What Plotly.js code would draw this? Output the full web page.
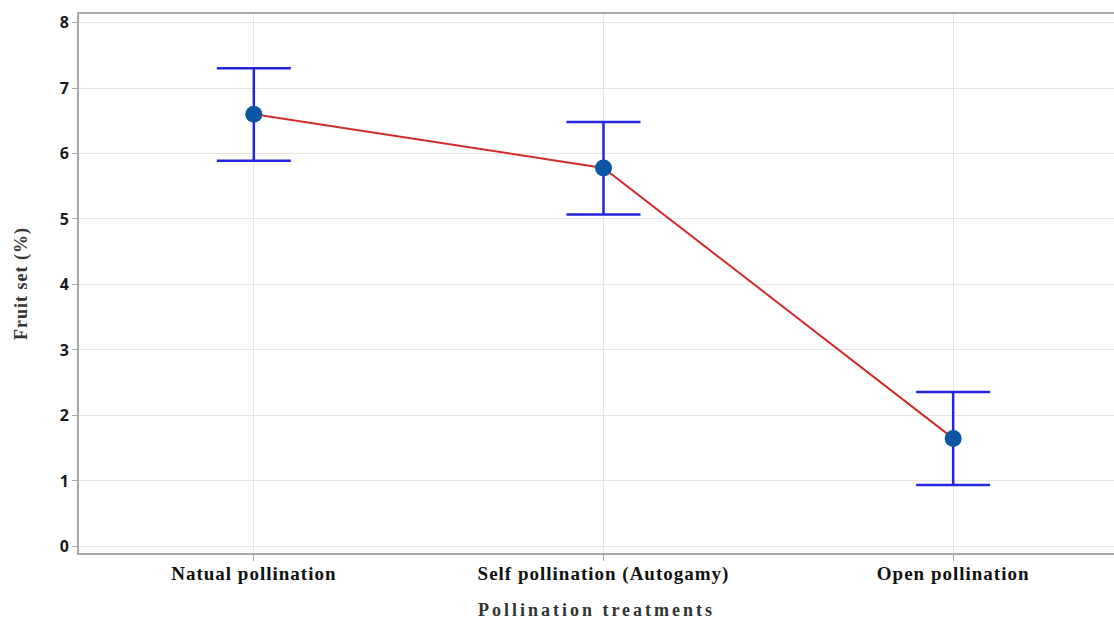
<!DOCTYPE html>
<html>
<head>
<meta charset="utf-8">
<script src="https://cdn.plot.ly/plotly-3.0.1.min.js"></script>
<style>
html,body{margin:0;padding:0;background:#fff;}
#chart{width:1114px;height:620px;}
.xtitle{letter-spacing:3px;}
.ytitle{letter-spacing:1px;}
.xtick text{letter-spacing:1px;}
</style>
</head>
<body>
<div id="chart"></div>
<script>
const categories = ["Natual pollination", "Self pollination (Autogamy)", "Open pollination"];
const fruitSet = [6.6, 5.78, 1.65];
const errUpper = [0.70, 0.70, 0.71];
const errLower = [0.71, 0.71, 0.71];
const yTicks = [0, 1, 2, 3, 4, 5, 6, 7, 8];

const trace = {
  type: "scatter",
  mode: "lines+markers",
  x: [0, 1, 2],
  y: fruitSet,
  line: {color: "#d22b2b", width: 2},
  marker: {color: "#0b56a3", size: 17},
  error_y: {type: "data", symmetric: false, array: errUpper, arrayminus: errLower,
            color: "#2525e0", thickness: 2.5, width: 37},
  hoverinfo: "skip"
};

const layout = {
  width: 1114, height: 620,
  margin: {l: 79, r: 0, t: 14, b: 67},
  paper_bgcolor: "#fff", plot_bgcolor: "#fff",
  showlegend: false,
  xaxis: {
    range: [-0.5, 2.46],
    tickvals: [0, 1, 2], ticktext: categories,
    showgrid: true, gridcolor: "#e6e6e6", gridwidth: 1,
    zeroline: false,
    showline: true, linecolor: "#a8a8a8", linewidth: 2, mirror: true,
    ticks: "outside", ticklen: 6, tickcolor: "#a8a8a8", tickwidth: 1,
    ticklabelstandoff: -4,
    tickfont: {family: "Liberation Serif, Times New Roman, serif", size: 19, color: "#111", weight: "bold"},
    title: {text: "<b>Pollination treatments</b>", standoff: 24,
            font: {family: "Liberation Serif, Times New Roman, serif", size: 18, color: "#333"}}
  },
  yaxis: {
    range: [-0.1, 8.13],
    tickvals: yTicks,
    showgrid: true, gridcolor: "#e6e6e6", gridwidth: 1,
    zeroline: false,
    showline: true, linecolor: "#a8a8a8", linewidth: 2, mirror: false,
    ticks: "outside", ticklen: 5, tickcolor: "#a8a8a8", tickwidth: 1,
    tickfont: {family: "Open Sans, DejaVu Sans, sans-serif", size: 16, color: "#1a1a1a", weight: 700},
    title: {text: "<b>Fruit set (%)</b>", standoff: 27,
            font: {family: "Liberation Serif, Times New Roman, serif", size: 18, color: "#333"}}
  }
};

Plotly.newPlot("chart", [trace], layout, {displayModeBar: false, staticPlot: true});
</script>
</body>
</html>
